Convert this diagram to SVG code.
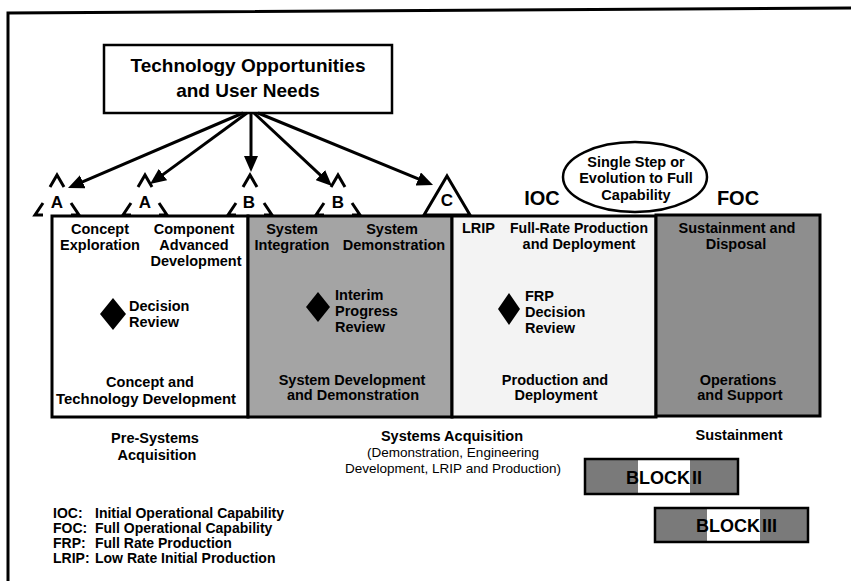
<svg xmlns="http://www.w3.org/2000/svg" width="851" height="581" viewBox="0 0 851 581">
<style>
text{font-family:"Liberation Sans",Arial,sans-serif;font-weight:bold;font-size:14.5px;fill:#000}
.m{text-anchor:middle}
.big{font-size:19px}
.lab{font-size:20px}
.ms{font-size:17px}
.reg{font-weight:normal;font-size:13.5px}
.leg{font-size:14px}
.blk{font-size:18px}
.box{stroke:#000;stroke-width:3}
.hatch{fill:#7a7a7a}
.ms-line{fill:none;stroke:#000;stroke-width:3;stroke-linejoin:miter}
.conn{stroke:#000;stroke-width:3;fill:none;marker-end:url(#ah)}
</style>
<defs>
<marker id="ah" markerUnits="userSpaceOnUse" markerWidth="16" markerHeight="14" refX="6" refY="7" orient="auto">
<path d="M0,0 L16,7 L0,14 z" fill="#000"/>
</marker>
</defs>
<rect width="851" height="581" fill="#fff"/>
<!-- frame -->
<path d="M8,581 L8,13 L851,8" fill="none" stroke="#000" stroke-width="3"/>

<g id="needs">
<rect x="104" y="45" width="288" height="68" fill="#fff" stroke="#000" stroke-width="2.5"/>
<text class="m big" x="248" y="72">Technology Opportunities</text>
<text class="m big" x="248" y="97">and User Needs</text>
</g>

<g id="connectors">
<line class="conn" x1="243" y1="113" x2="77.2" y2="184.1"/>
<line class="conn" x1="247" y1="113" x2="158.1" y2="178.1"/>
<line class="conn" x1="251" y1="113" x2="251" y2="162"/>
<line class="conn" x1="254" y1="113" x2="324.7" y2="179.2"/>
<line class="conn" x1="258" y1="113" x2="423.8" y2="181.2"/>
</g>

<g id="phase1">
<rect class="box" x="52" y="216" width="196" height="201" fill="#fff"/>
<text class="m" x="100" y="234">Concept</text>
<text class="m" x="100" y="250">Exploration</text>
<text class="m" x="194" y="234">Component</text>
<text class="m" x="194" y="250">Advanced</text>
<text class="m" x="196" y="266">Development</text>
<path d="M113,298 L126,314 L113,330 L100,314 z" fill="#000"/>
<text x="129" y="311">Decision</text>
<text x="129" y="327">Review</text>
<text class="m" x="150" y="387">Concept and</text>
<text class="m" x="146" y="404" textLength="180" lengthAdjust="spacingAndGlyphs">Technology Development</text>
</g>

<g id="phase2">
<rect class="box" x="248" y="216" width="204" height="201" fill="#a4a4a4"/>
<text class="m" x="292" y="234">System</text>
<text class="m" x="292" y="250">Integration</text>
<text class="m" x="392" y="234">System</text>
<text class="m" x="394" y="250">Demonstration</text>
<path d="M318,292 L330,307 L318,322 L306,307 z" fill="#000"/>
<text x="335" y="300">Interim</text>
<text x="335" y="316">Progress</text>
<text x="335" y="332">Review</text>
<text class="m" x="352" y="385">System Development</text>
<text class="m" x="353" y="400">and Demonstration</text>
</g>

<g id="phase3">
<rect class="box" x="452" y="216" width="204" height="201" fill="#f3f3f3"/>
<text x="462" y="233">LRIP</text>
<text class="m" x="579" y="233" textLength="138" lengthAdjust="spacingAndGlyphs">Full-Rate Production</text>
<text class="m" x="579" y="249">and Deployment</text>
<path d="M509,293 L520,309 L509,325 L498,309 z" fill="#000"/>
<text x="525" y="301">FRP</text>
<text x="525" y="317">Decision</text>
<text x="525" y="333">Review</text>
<text class="m" x="555" y="385">Production and</text>
<text class="m" x="556" y="400">Deployment</text>
</g>

<g id="phase4">
<rect class="box" x="656" y="215" width="164" height="201" fill="#8e8e8e"/>
<text class="m" x="737" y="233">Sustainment and</text>
<text class="m" x="736" y="249">Disposal</text>
<text class="m" x="738" y="385">Operations</text>
<text class="m" x="740" y="400">and Support</text>
</g>

<g id="milestone-A1">
<path class="ms-line" d="M50,187 L57,175 L64,187 M43,203 L35,215 L43,215 M71,203 L79,215 L71,215"/>
<text class="m ms" x="57" y="208">A</text>
</g>
<g id="milestone-A2">
<path class="ms-line" d="M138,187 L145,175 L152,187 M131,203 L123,215 L131,215 M159,203 L167,215 L159,215"/>
<text class="m ms" x="145" y="208">A</text>
</g>
<g id="milestone-B1">
<path class="ms-line" d="M243,187 L250,175 L257,187 M236,203 L228,215 L236,215 M264,203 L272,215 L264,215"/>
<text class="m ms" x="249" y="208">B</text>
</g>
<g id="milestone-B2">
<path class="ms-line" d="M331,187 L338,175 L345,187 M324,203 L316,215 L324,215 M352,203 L360,215 L352,215"/>
<text class="m ms" x="338" y="208">B</text>
</g>
<g id="milestone-C">
<path class="ms-line" d="M447,176 L470,215 L424,215 z" fill="#fff"/>
<text class="m ms" x="447" y="206">C</text>
</g>

<g id="ioc">
<text class="m lab" x="542" y="205">IOC</text>
</g>
<g id="foc">
<text class="m lab" x="738" y="205">FOC</text>
</g>
<g id="evolution">
<ellipse cx="635" cy="177" rx="72" ry="35" fill="#fff" stroke="#000" stroke-width="2.5"/>
<text class="m" x="636" y="167">Single Step or</text>
<text class="m" x="636" y="183">Evolution to Full</text>
<text class="m" x="636" y="200">Capability</text>
</g>

<g id="pre-systems">
<text class="m" x="155" y="443">Pre-Systems</text>
<text class="m" x="157" y="460">Acquisition</text>
</g>
<g id="systems-acq">
<text class="m" x="452" y="441">Systems Acquisition</text>
<text class="m reg" x="453" y="457">(Demonstration, Engineering</text>
<text class="m reg" x="453" y="473">Development, LRIP and Production)</text>
</g>
<g id="sustainment">
<text class="m" x="739" y="440">Sustainment</text>
</g>

<g id="block2">
<rect class="hatch" x="585" y="459" width="53" height="35"/>
<rect x="638" y="459" width="52" height="35" fill="#fff"/>
<rect class="hatch" x="690" y="459" width="48" height="35"/>
<rect x="585" y="459" width="153" height="35" fill="none" stroke="#000" stroke-width="2.5"/>
<text class="blk" x="626" y="484">BLOCK<tspan x="692">II</tspan></text>
</g>
<g id="block3">
<rect class="hatch" x="655" y="508" width="52" height="34"/>
<rect x="707" y="508" width="53" height="34" fill="#fff"/>
<rect class="hatch" x="760" y="508" width="48" height="34"/>
<rect x="655" y="508" width="153" height="34" fill="none" stroke="#000" stroke-width="2.5"/>
<text class="blk" x="696" y="532">BLOCK<tspan x="762">III</tspan></text>
</g>

<g id="legend">
<text class="leg" x="53" y="518">IOC:</text>
<text class="leg" x="95" y="518">Initial Operational Capability</text>
<text class="leg" x="53" y="533">FOC:</text>
<text class="leg" x="95" y="533">Full Operational Capability</text>
<text class="leg" x="53" y="548">FRP:</text>
<text class="leg" x="95" y="548">Full Rate Production</text>
<text class="leg" x="53" y="563">LRIP:</text>
<text class="leg" x="95" y="563">Low Rate Initial Production</text>
</g>
</svg>
